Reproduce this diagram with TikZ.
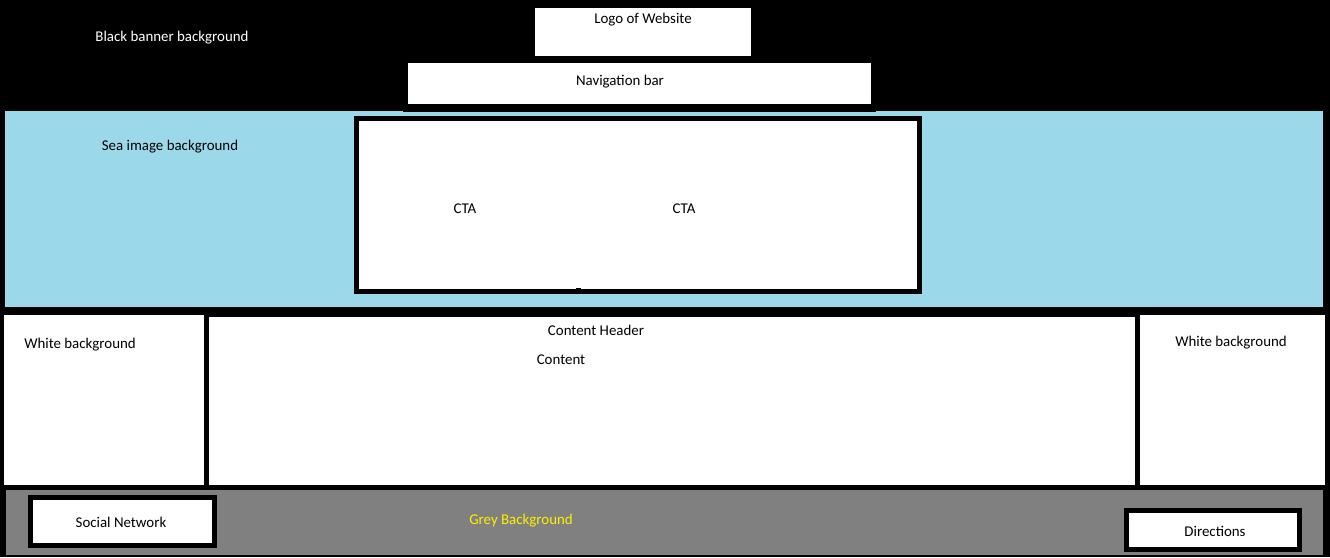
\documentclass[tikz,border=0pt]{standalone}
\usepackage{fontspec}
\setmainfont{Carlito}
\definecolor{sea}{HTML}{9BD9EA}
\definecolor{greybg}{HTML}{808080}
\definecolor{yel}{HTML}{FFF000}
\begin{document}
\begin{tikzpicture}[x=1pt,y=-1pt,
  area/.style={rectangle,inner sep=0pt,outer sep=0pt,anchor=north west},
  framed/.style={area,draw=black,line width=5pt,fill=white},
  lbl/.style={inner sep=0pt,font=\fontsize{14.9}{17}\selectfont,text=black}]
\useasboundingbox (0,0) rectangle (1330,557);
\node[area,fill=black,minimum width=1330,minimum height=557] (bg) at (0,0) {};
\node[area,fill=sea,minimum width=1318,minimum height=196] (sea) at (5,111) {};
\node[area,fill=black,minimum width=473,minimum height=8] (navstrip) at (403,104) {};
\node[area,fill=white,minimum width=216,minimum height=48] (logo) at (535,8) {};
\node[area,fill=white,minimum width=463,minimum height=41] (nav) at (408,63) {};
\node[framed,minimum width=563,minimum height=173] (cta) at (356.5,118.5) {};
\node[area,fill=black,minimum width=5,minimum height=6] (dot) at (575.5,288) {};
\node[area,fill=white,minimum width=200,minimum height=170] (leftcell) at (4,315) {};
\node[area,fill=white,minimum width=926,minimum height=168] (content) at (209,317) {};
\node[area,fill=white,minimum width=185,minimum height=170] (rightcell) at (1140,315) {};
\node[area,fill=greybg,minimum width=1317,minimum height=65] (grey) at (6,490) {};
\node[framed,minimum width=184,minimum height=48] (social) at (30.5,497.5) {};
\node[framed,minimum width=173,minimum height=39] (dir) at (1126.5,510.5) {};
% texts
\node[lbl,text=white] (tblack) at (172,37.5) {Black banner background};
\node[lbl] (tlogo) at (643,19.5) {Logo of Website};
\node[lbl] (tnav) at (620,81.5) {Navigation bar};
\node[lbl] (tsea) at (170,146.5) {Sea image background};
\node[lbl] (tcta1) at (465,208.5) {CTA};
\node[lbl] (tcta2) at (684,208.5) {CTA};
\node[lbl] (tch) at (596,330.5) {Content Header};
\node[lbl] (tcontent) at (561,359.5) {Content};
\node[lbl] (twl) at (80,344.5) {White background};
\node[lbl] (twr) at (1231,342.5) {White background};
\node[lbl] (tsocial) at (121,522.5) {Social Network};
\node[lbl,text=yel] (tgrey) at (521,520.5) {Grey Background};
\node[lbl] (tdir) at (1215,531.5) {Directions};
\end{tikzpicture}
\end{document}
